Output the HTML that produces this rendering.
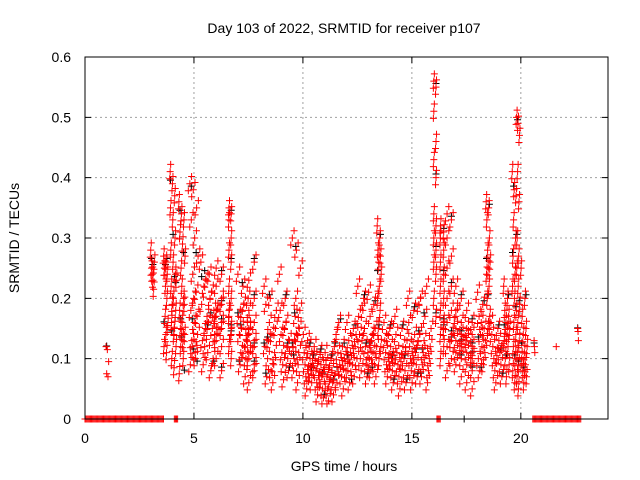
<!DOCTYPE html>
<html><head><meta charset="utf-8"><style>
html,body{margin:0;padding:0;background:#fff}
svg{display:block;font-family:"Liberation Sans",sans-serif}
</style></head><body>
<svg id="chart" width="640" height="480" viewBox="0 0 640 480">
<rect width="640" height="480" fill="#fff"/>
<g id="grid"></g>
<g id="marks"></g>
<g id="axes"></g>
<text x="344" y="33" font-size="14" text-anchor="middle">Day 103 of 2022, SRMTID for receiver p107</text>
<text x="344" y="471" font-size="14" text-anchor="middle">GPS time / hours</text>
<text transform="translate(19,238) rotate(-90)" font-size="14" text-anchor="middle">SRMTID / TECUs</text>
</svg>
<script>
const xTicks=[0,5,10,15,20];
const yTicks=[0,0.1,0.2,0.3,0.4,0.5,0.6];
const yTickLabels=["0","0.1","0.2","0.3","0.4","0.5","0.6"];
const segStart=[0.95,3.0,3.6,3.9,4.3,4.8,5.3,6.0,6.6,7.0,7.5,8.2,8.9,9.5,10.0,10.5,11.0,11.5,12.0,12.5,13.0,13.4,13.7,14.2,14.8,15.3,16.0,16.3,16.6,17.0,17.5,18.0,18.4,18.6,19.2,19.6,19.8,20.0,20.6,21.6,22.6];
const segEnd=[1.1,3.2,3.8,4.2,4.6,5.2,6.0,6.5,6.8,7.5,8.0,8.8,9.4,9.9,10.5,11.0,11.5,12.0,12.5,13.0,13.4,13.6,14.2,14.8,15.3,15.9,16.2,16.6,17.0,17.5,18.0,18.4,18.6,19.2,19.5,19.8,19.95,20.3,20.65,21.65,22.65];
const segValues=[
[.12,.115,.095,.075,.07],
[.28,.25,.24,.23,.215,.26],
[.27,.26,.25,.2,.17,.155,.14,.12,.11,.25,.24,.22],
[.41,.39,.37,.35,.33,.3,.28,.26,.24,.22,.2,.18,.16,.14,.12,.1,.085,.23,.19,.15],
[.36,.34,.33,.31,.29,.27,.25,.2,.18,.16,.14,.12,.1,.075,.22,.19,.15,.13],
[.39,.38,.35,.33,.3,.27,.24,.21,.18,.16,.14,.12,.1,.09,.2,.17,.13,.11],
[.26,.23,.21,.19,.17,.15,.13,.11,.1,.09,.16,.18,.22,.24,.14,.12,.2,.17,.15,.08],
[.25,.24,.22,.2,.18,.16,.14,.12,.1,.08,.17,.15,.13,.19],
[.35,.34,.33,.3,.28,.26,.22,.2,.18,.15,.12,.1,.17,.14],
[.24,.22,.2,.18,.16,.15,.13,.11,.1,.09,.07,.14,.12,.17,.19],
[.23,.2,.18,.16,.14,.12,.1,.08,.06,.26,.15,.13,.11,.09],
[.22,.2,.18,.16,.15,.13,.11,.1,.09,.07,.06,.19,.14,.12,.08],
[.24,.2,.18,.16,.14,.12,.11,.1,.09,.08,.065,.13,.15],
[.3,.28,.25,.2,.18,.17,.15,.13,.11,.1,.09,.08,.06,.12,.14],
[.14,.12,.11,.1,.09,.08,.07,.06,.05,.1,.13,.085,.075],
[.12,.11,.1,.09,.08,.07,.06,.05,.04,.035,.095,.085,.065],
[.11,.1,.09,.08,.07,.06,.05,.04,.03,.12,.085,.075,.065],
[.14,.12,.11,.1,.09,.08,.07,.06,.05,.16,.095,.085],
[.16,.15,.13,.12,.11,.1,.09,.08,.07,.06,.14,.105],
[.22,.2,.17,.15,.14,.12,.1,.09,.08,.07,.13,.11,.18],
[.21,.19,.17,.15,.13,.12,.11,.1,.09,.08,.07,.14],
[.32,.3,.28,.27,.26,.24,.22,.2,.18,.15,.12,.1],
[.16,.15,.13,.12,.11,.1,.09,.08,.07,.06,.14,.105,.095],
[.17,.15,.14,.12,.11,.1,.09,.08,.07,.06,.05,.13,.095],
[.2,.18,.16,.14,.12,.11,.1,.09,.08,.07,.06,.13,.105],
[.19,.17,.15,.13,.12,.11,.1,.09,.08,.07,.06,.2,.22,.14,.105],
[.56,.55,.51,.46,.43,.4,.34,.32,.3,.28,.26,.24,.2,.17],
[.32,.31,.3,.28,.26,.24,.22,.2,.18,.16,.14,.12,.1,.15],
[.34,.33,.3,.27,.25,.22,.2,.18,.16,.14,.12,.1,.08,.13],
[.22,.2,.18,.16,.15,.14,.13,.12,.11,.1,.09,.07,.17,.125],
[.18,.16,.15,.14,.13,.12,.11,.1,.09,.08,.06,.05,.135,.105],
[.21,.19,.17,.15,.14,.13,.12,.1,.09,.08,.11,.16],
[.36,.35,.33,.3,.28,.26,.25,.24,.22,.2,.17,.15],
[.16,.15,.14,.13,.12,.11,.1,.09,.08,.07,.06,.125,.105],
[.22,.2,.18,.17,.16,.15,.14,.13,.12,.1,.09,.07],
[.41,.38,.37,.33,.3,.27,.24,.22,.2,.18,.16,.14,.12,.1,.08,.06],
[.5,.49,.47,.41,.36,.3,.27,.25,.22,.19,.16,.13,.11,.09,.07,.05],
[.25,.2,.17,.15,.14,.12,.11,.1,.09,.08,.07,.06],
[.13,.12,.11],
[.12],
[.15,.145,.13]];
const zeroStart=[0.0,4.1,16.15,20.55];
const zeroEnd=[3.6,4.25,16.3,22.75];
const blackZero=[17.4];

const X0=85,X1=608,Y0=419,Y1=57;
const xs=t=>X0+t/24*(X1-X0);
const ys=v=>Y0-v/0.6*(Y0-Y1);
const NS="http://www.w3.org/2000/svg";
function mk(tag,parent){const e=document.createElementNS(NS,tag);parent.appendChild(e);return e;}
const grid=document.getElementById('grid'),marks=document.getElementById('marks'),axes=document.getElementById('axes');

xTicks.forEach((t,i)=>{
  if(t>0){const l=mk('line',grid);
  
  
  l.setAttribute('x1',xs(t));l.setAttribute('x2',xs(t));l.setAttribute('y1',Y1);l.setAttribute('y2',Y0);
  l.setAttribute('stroke','#a0a0a0');l.setAttribute('stroke-dasharray','2,3');}
  const tk=mk('path',axes);
  
  
  tk.setAttribute('d',`M${xs(t)},${Y0}v-6M${xs(t)},${Y1}v6`);tk.setAttribute('stroke','#000');
  const tx=mk('text',axes);
  
  
  tx.setAttribute('x',xs(t));tx.setAttribute('y',443);tx.setAttribute('font-size','14');tx.setAttribute('text-anchor','middle');tx.textContent=t;
});
yTicks.forEach((v,i)=>{
  if(v>0&&v<0.6){const l=mk('line',grid);
  
  
  l.setAttribute('x1',X0);l.setAttribute('x2',X1);l.setAttribute('y1',ys(v));l.setAttribute('y2',ys(v));
  l.setAttribute('stroke','#a0a0a0');l.setAttribute('stroke-dasharray','2,3');}
  const tk=mk('path',axes);
  
  
  tk.setAttribute('d',`M${X0},${ys(v)}h6M${X1},${ys(v)}h-6`);tk.setAttribute('stroke','#000');
  const tx=mk('text',axes);
  
  
  tx.setAttribute('x',71);tx.setAttribute('y',ys(v)+5);tx.setAttribute('font-size','14');tx.setAttribute('text-anchor','end');tx.textContent=yTickLabels[i];
});
const fr=mk('rect',axes);


fr.setAttribute('x',X0);fr.setAttribute('y',Y1);fr.setAttribute('width',X1-X0);fr.setAttribute('height',Y0-Y1);
fr.setAttribute('fill','none');fr.setAttribute('stroke','#000');

function plus(t,v,color,name){
  const x=xs(t),y=ys(v);
  const p=mk('path',marks);
  
  
  p.setAttribute('d',`M${x-3.5},${y}h7M${x},${y-3.5}v7`);
  p.setAttribute('stroke',color);p.setAttribute('stroke-width','1');
}
const dupDt=[0,0.08,-0.07];
const dupDv=[0,0.012,0.009];
function pos(i,n){return (((i*7)%n)+0.5)/n;}
// black series (drawn beneath)
segValues.forEach((vals,s)=>{
  vals.forEach((v,i)=>{
    if(i%4!==1)return;
    const f=pos(i+2,vals.length);
    plus(segStart[s]+f*(segEnd[s]-segStart[s]),v+0.006,'#000','black-point');
  });
});
blackZero.forEach(t=>plus(t,0,'#000','black-point'));
// red series
segValues.forEach((vals,s)=>{
  const w=segEnd[s]-segStart[s];
  vals.forEach((v,i)=>{
    const f=pos(i,vals.length);
    const t=segStart[s]+f*w;
    dupDt.forEach((dt,k)=>{
      if(vals.length<6&&k>0)return;
      const d=w<0.35?dt*0.3:dt;
      plus(t+d,Math.max(0.025,v+dupDv[k]*(k===2?-1.3:1)),'#f00','red-point');
    });
  });
});
zeroStart.forEach((a,k)=>{
  for(let t=a;t<=zeroEnd[k]+1e-9;t+=0.05)plus(t,0,'#f00','red-zero-point');
});
</script>
</body></html>
